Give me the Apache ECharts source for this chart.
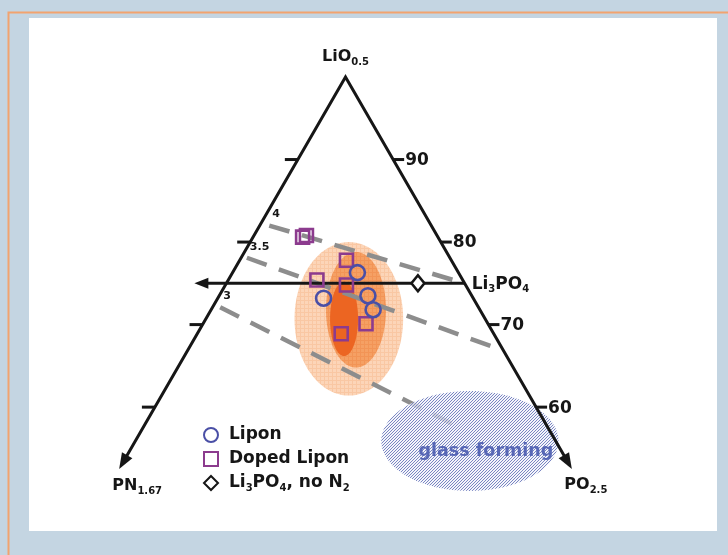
<!DOCTYPE html>
<html>
<head>
<meta charset="utf-8">
<title>Lipon composition diagram</title>
<script src="https://cdn.jsdelivr.net/npm/echarts@6/dist/echarts.min.js"></script>
<style>
html, body { margin: 0; padding: 0; background: #c4d5e2; }
#chart { width: 728px; height: 555px; }
</style>
</head>
<body>
<div id="chart"></div>
<script>
// Compositions are [LiO0.5, PN1.67, PO2.5] in mol %.
const liponPoints = [[76.3, 10.6, 13.1], [73.2, 15.7, 11.1], [73.5, 10.9, 15.6], [71.8, 11.2, 17.0]];
const dopedLiponPoints = [[80.6, 14.2, 5.2], [80.8, 13.7, 5.5], [77.8, 11.0, 11.2], [75.4, 15.3, 9.3],
                          [74.8, 12.5, 12.7], [70.1, 12.8, 17.1], [68.9, 16.0, 15.1]];
const li3po4NoN2Points = [[75.0, 4.9, 20.1]];
const li3po4Composition = [75, 0, 25];

// Side ticks (LiO0.5 %) and the LiO0.5 level where the side arrows end
const sideTickValues = [90, 80, 70, 60];
const sideTickLabels = ['90', '80', '70', '60'];
const sideEndLi = 52.5;

// Dashed iso-lines
const isoLineLabels = ['4', '3.5', '3'];
const isoLineStarts = [[82.0, 17.0, 1.0], [78.1, 21.3, 0.6], [72.1, 27.1, 0.8]];
const isoLineEnds = [[75.0, 0.0, 25.0], [67.0, 0.3, 32.7], [57.8, 9.6, 32.6]];

// Lipon deposition regions: centre composition, half-width (PO2.5 %), half-height (LiO0.5 %)
const regionNames = ['outer', 'middle', 'core'];
const regionCenters = [[70.7, 14.3, 15.0], [71.8, 13.0, 15.2], [70.7, 14.8, 14.5]];
const regionHalfWidths = [5.7, 3.15, 1.47];
const regionHalfHeights = [9.3, 7.0, 4.5];

// Glass forming region
const glassCenter = [55.9, 9.0, 35.1];
const glassHalfWidth = 9.3;
const glassHalfHeight = 6.06;

const SQRT3_2 = Math.sqrt(3) / 2;
// Ternary composition -> cartesian (PN1.67 corner at x=0, PO2.5 corner at x=100)
function toXY(comp) {
  return [comp[2] + comp[0] / 2, comp[0] * SQRT3_2];
}

// Layout: pixels per cartesian unit and where the LiO0.5 apex sits
const W = 728, H = 555;
const PX_PER_UNIT = 9.53;
const APEX_PX = [345.5, 77];
const apexXY = toXY([100, 0, 0]);
const xMin = apexXY[0] - APEX_PX[0] / PX_PER_UNIT;
const xMax = xMin + W / PX_PER_UNIT;
const yMax = apexXY[1] + APEX_PX[1] / PX_PER_UNIT;
const yMin = yMax - H / PX_PER_UNIT;

const FONT = '"DejaVu Sans", "Liberation Sans", Arial, sans-serif';
const INK = '#161616';

function makePattern(size, draw) {
  const c = document.createElement('canvas');
  c.width = size; c.height = size;
  draw(c.getContext('2d'), size);
  return { image: c, repeat: 'repeat' };
}
const gridPattern = (base, line) => makePattern(4, (g, s) => {
  g.fillStyle = base; g.fillRect(0, 0, s, s);
  g.fillStyle = line; g.fillRect(0, 0, s, 1); g.fillRect(0, 0, 1, s);
});
const regionFills = [
  gridPattern('#fcd5b8', '#f9c7a3'),
  gridPattern('#f5a064', '#f29456'),
  '#ec6522'
];
// Crisp one-pixel diagonal hatch, three-pixel period
const hatchFill = makePattern(3, (g, s) => {
  g.fillStyle = 'rgba(240,242,250,0.75)'; g.fillRect(0, 0, s, s);
  g.fillStyle = '#7a86c2';
  for (let i = 0; i < s; i++) g.fillRect(i, s - 1 - i, 1, 1);
});

function ellipsePoints(api, center, hw, hh) {
  const c = api.coord(toXY(center));
  const rx = api.size([hw, 0])[0];
  const ry = api.size([0, hh * SQRT3_2])[1];
  const pts = [];
  for (let i = 0; i < 96; i++) {
    const t = (i / 96) * Math.PI * 2;
    pts.push([c[0] + rx * Math.cos(t), c[1] + ry * Math.sin(t)]);
  }
  return pts;
}

function arrowHead(tip, from, len, half) {
  const dx = tip[0] - from[0], dy = tip[1] - from[1];
  const d = Math.hypot(dx, dy);
  const ux = dx / d, uy = dy / d;
  const bx = tip[0] - ux * len, by = tip[1] - uy * len;
  return {
    type: 'polygon',
    shape: { points: [tip, [bx - uy * half, by + ux * half], [bx + uy * half, by - ux * half]] },
    style: { fill: INK }
  };
}

function richText(x, y, text, align, sizeMain, sizeSub) {
  return {
    type: 'text',
    style: {
      x: x, y: y, text: text, align: align, verticalAlign: 'middle',
      rich: {
        n: { fontFamily: FONT, fontWeight: 'bold', fontSize: sizeMain, fill: INK, lineHeight: 20 },
        s: { fontFamily: FONT, fontWeight: 'bold', fontSize: sizeSub, fill: INK, lineHeight: 20, verticalAlign: 'bottom', padding: [6, 0, 0, 0] }
      }
    }
  };
}

function renderRegions(params, api) {
  const i = params.dataIndex;
  return {
    type: 'polygon',
    shape: { points: ellipsePoints(api, regionCenters[i], regionHalfWidths[i], regionHalfHeights[i]) },
    style: { fill: regionFills[i] }
  };
}

function renderGlass(params, api) {
  const c = api.coord(toXY(glassCenter));
  return {
    type: 'group',
    children: [
      {
        type: 'polygon',
        shape: { points: ellipsePoints(api, glassCenter, glassHalfWidth, glassHalfHeight) },
        style: { fill: hatchFill }
      },
      {
        type: 'text',
        style: {
          x: c[0] + 16, y: c[1] + 10, text: 'glass forming', align: 'center', verticalAlign: 'middle',
          fontFamily: FONT, fontWeight: 'bold', fontSize: 17.5, fill: '#5767b6'
        }
      }
    ]
  };
}

function renderIsoLines(params, api) {
  const i = params.dataIndex;
  const a = api.coord(toXY(isoLineStarts[i]));
  const b = api.coord(toXY(isoLineEnds[i]));
  return {
    type: 'group',
    children: [
      {
        type: 'line',
        shape: { x1: a[0], y1: a[1], x2: b[0], y2: b[1] },
        style: { stroke: '#8d8d8d', lineWidth: 4.5, lineDash: [21, 13], lineCap: 'butt' }
      },
      {
        type: 'text',
        style: {
          x: a[0] + 3, y: a[1] - 11, text: isoLineLabels[i], align: 'left', verticalAlign: 'middle',
          fontFamily: FONT, fontWeight: 'bold', fontSize: 11, fill: INK
        }
      }
    ]
  };
}

function renderFrame(params, api) {
  const P = comp => api.coord(toXY(comp));
  const apex = P([100, 0, 0]);
  const pnEnd = P([sideEndLi, 100 - sideEndLi, 0]);
  const poEnd = P([sideEndLi, 0, 100 - sideEndLi]);
  const children = [];

  // Li3PO4 tie line with arrow pointing toward the PN side
  const li3po4 = P(li3po4Composition);
  const leftSide = P([li3po4Composition[0], 100 - li3po4Composition[0], 0]);
  const tip = [leftSide[0] - 32, leftSide[1]];
  children.push({
    type: 'line',
    shape: { x1: li3po4[0], y1: li3po4[1], x2: tip[0] + 6, y2: tip[1] },
    style: { stroke: INK, lineWidth: 3 }
  });
  children.push(arrowHead(tip, li3po4, 14, 5.5));
  children.push(richText(li3po4[0] + 7, li3po4[1] + 1, '{n|Li}{s|3}{n|PO}{s|4}', 'left', 17, 10));

  // Triangle sides
  const pnShaft = [pnEnd[0] + (apex[0] - pnEnd[0]) * 0.03, pnEnd[1] + (apex[1] - pnEnd[1]) * 0.03];
  const poShaft = [poEnd[0] + (apex[0] - poEnd[0]) * 0.03, poEnd[1] + (apex[1] - poEnd[1]) * 0.03];
  children.push({
    type: 'polyline',
    shape: { points: [pnShaft, apex, poShaft] },
    style: { stroke: INK, lineWidth: 3, lineJoin: 'miter', fill: null }
  });
  children.push(arrowHead(pnEnd, apex, 16, 6));
  children.push(arrowHead(poEnd, apex, 16, 6));

  // Ticks on both sides, labels on the PO side
  sideTickValues.forEach((v, k) => {
    const l = P([v, 100 - v, 0]);
    const r = P([v, 0, 100 - v]);
    children.push({ type: 'line', shape: { x1: l[0] - 13, y1: l[1], x2: l[0], y2: l[1] }, style: { stroke: INK, lineWidth: 3 } });
    children.push({ type: 'line', shape: { x1: r[0], y1: r[1], x2: r[0] + 11, y2: r[1] }, style: { stroke: INK, lineWidth: 3 } });
    children.push({
      type: 'text',
      style: {
        x: r[0] + 12, y: r[1] + 1, text: sideTickLabels[k], align: 'left', verticalAlign: 'middle',
        fontFamily: FONT, fontWeight: 'bold', fontSize: 17, fill: INK
      }
    });
  });

  // Corner labels
  children.push(richText(apex[0], apex[1] - 20, '{n|LiO}{s|0.5}', 'center', 16, 10));
  children.push(richText(pnEnd[0] + 18, pnEnd[1] + 17, '{n|PN}{s|1.67}', 'center', 16, 10));
  children.push(richText(poEnd[0] + 14, poEnd[1] + 16, '{n|PO}{s|2.5}', 'center', 16, 10));

  return { type: 'group', children: children };
}

const markerBorder = 2.6;
const chart = echarts.init(document.getElementById('chart'), null, { renderer: 'canvas' });
chart.setOption({
  animation: false,
  backgroundColor: 'transparent',
  graphic: [
    { type: 'rect', z: -10, shape: { x: 0, y: 0, width: W, height: H }, style: { fill: '#c4d5e2' } },
    { type: 'polyline', z: -9, shape: { points: [[8.5, H], [8.5, 12.5], [W, 12.5]] }, style: { stroke: '#f2a36f', lineWidth: 2, fill: null } },
    { type: 'rect', z: -9, shape: { x: 29, y: 18, width: 688, height: 513 }, style: { fill: '#ffffff' } }
  ],
  grid: { left: 0, right: 0, top: 0, bottom: 0 },
  xAxis: { type: 'value', min: xMin, max: xMax, show: false },
  yAxis: { type: 'value', min: yMin, max: yMax, show: false },
  legend: {
    orient: 'vertical', left: 198, top: 420, itemWidth: 14, itemHeight: 14, itemGap: 4,
    data: [
      { name: 'Lipon', icon: 'circle' },
      { name: 'Doped Lipon', icon: 'rect' },
      { name: 'Li3PO4, no N2', icon: 'diamond' }
    ],
    formatter: name => name === 'Li3PO4, no N2'
      ? '{n|Li}{s|3}{n|PO}{s|4}{n|, no N}{s|2}'
      : '{n|' + name + '}',
    textStyle: {
      lineHeight: 20,
      padding: [0, 0, 0, 6],
      rich: {
        n: { fontFamily: FONT, fontWeight: 'bold', fontSize: 17, color: INK, lineHeight: 20 },
        s: { fontFamily: FONT, fontWeight: 'bold', fontSize: 10, color: INK, lineHeight: 20, verticalAlign: 'bottom', padding: [6, 0, 0, 0] }
      }
    }
  },
  series: [
    { type: 'custom', name: 'regions', z: 1, silent: true, renderItem: renderRegions, data: regionNames.map((n, i) => [i]) },
    { type: 'custom', name: 'isoLines', z: 2, silent: true, renderItem: renderIsoLines, data: isoLineLabels.map((n, i) => [i]) },
    { type: 'custom', name: 'glass', z: 3, silent: true, renderItem: renderGlass, data: [[0]] },
    { type: 'custom', name: 'frame', z: 4, silent: true, renderItem: renderFrame, data: [[0]] },
    {
      type: 'scatter', name: 'Lipon', z: 6, symbol: 'circle', symbolSize: 15,
      itemStyle: { color: 'rgba(0,0,0,0)', borderColor: '#4a4fa6', borderWidth: markerBorder, opacity: 1 },
      data: liponPoints.map(toXY)
    },
    {
      type: 'scatter', name: 'Doped Lipon', z: 5, symbol: 'rect', symbolSize: 13,
      itemStyle: { color: 'rgba(0,0,0,0)', borderColor: '#8c3b8e', borderWidth: markerBorder, opacity: 1 },
      data: dopedLiponPoints.map(toXY)
    },
    {
      type: 'scatter', name: 'Li3PO4, no N2', z: 6, symbol: 'diamond', symbolSize: [13, 16],
      itemStyle: { color: '#ffffff', borderColor: INK, borderWidth: markerBorder, opacity: 1 },
      data: li3po4NoN2Points.map(toXY)
    }
  ]
});
</script>
</body>
</html>
